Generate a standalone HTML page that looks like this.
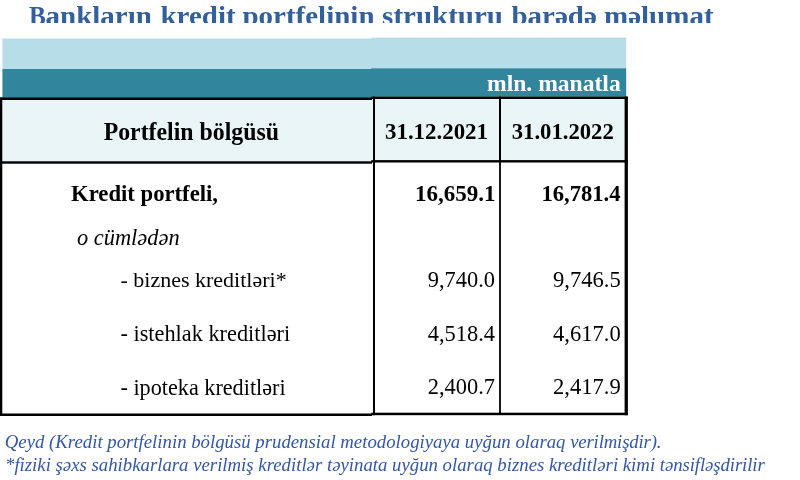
<!DOCTYPE html>
<html><head><meta charset="utf-8">
<style>
html,body{margin:0;padding:0;background:#fff;}
body{width:800px;height:480px;position:relative;overflow:hidden;font-family:"Liberation Serif",serif;color:#000;}
.a{position:absolute;white-space:nowrap;line-height:1;}
#tx{position:absolute;left:0;top:0;width:800px;height:480px;will-change:transform;}
.bx{position:absolute;}
.w{position:relative;}
</style></head><body>
<svg class="bx" id="grid" style="left:0;top:0;" width="800" height="480" viewBox="0 0 800 480">
<!-- left piece -->
<rect x="2.4" y="38.5" width="369.6" height="30.5" fill="#b7dde8"/>
<rect x="2.4" y="69" width="369.6" height="29" fill="#31859c"/>
<rect x="2.6" y="99.5" width="369.4" height="62.5" fill="#eaf5f7"/>
<!-- right piece -->
<rect x="371.3" y="37.6" width="254.9" height="30.7" fill="#b7dde8"/>
<rect x="371.3" y="68.3" width="254.9" height="28.5" fill="#31859c"/>
<rect x="371.3" y="98" width="254.9" height="62.5" fill="#eaf5f7"/>
<g fill="#000">
<rect x="0" y="97.5" width="372" height="2.5"/>
<rect x="0" y="161.3" width="372" height="2.4"/>
<rect x="0" y="413.5" width="372" height="2.5"/>
<rect x="0" y="97.5" width="2.3" height="318.5"/>
<rect x="371.3" y="96.6" width="256.6" height="2.4"/>
<rect x="371.3" y="160.1" width="256.6" height="2.4"/>
<rect x="371.3" y="412.7" width="256.6" height="2.5"/>
<rect x="373" y="96.6" width="2" height="318.6"/>
<rect x="499" y="96.6" width="2" height="65"/>
<rect x="499.1" y="161" width="1.8" height="254"/>
<rect x="624.6" y="96.6" width="3.3" height="318.6"/>
</g>
</svg>
<!-- texts -->
<div id="tx">
<div class="bx clip" style="left:0;top:0px;width:800px;height:22.7px;overflow:hidden;"><div class="a" id="title" style="left:28.5px;top:0.71px;font-size:29px;font-weight:bold;color:#33609c;transform:scaleY(0.94);transform-origin:0 24.29px;"><span style="display:inline-block;transform:scaleX(.87);transform-origin:0 0;margin-right:-2.3px">B</span>ankların <span class="w" style="left:1.3px">kredit</span> <span class="w" style="left:0.8px">portfelinin</span> <span class="w" style="left:1.1px">strukturu</span> <span class="w" style="left:2.3px">barədə</span> <span class="w" style="left:2.3px">məlumat</span></div></div>
<div class="a" id="mln" style="left:487px;top:72px;font-size:23.6px;font-weight:bold;color:#fff;">mln. manatla</div>
<div class="a" id="h1" style="left:103.7px;top:120.5px;font-size:23.8px;font-weight:bold;transform:scaleY(1.08);transform-origin:0 80%;">Portfelin bölgüsü</div>
<div class="a" id="h2" style="left:385px;top:120.5px;font-size:22.9px;font-weight:bold;">31.12.2021</div>
<div class="a" id="h3" style="left:511.7px;top:120.8px;font-size:22.7px;font-weight:bold;">31.01.2022</div>
<div class="a" id="r1" style="left:71px;top:183px;font-size:22.7px;font-weight:bold;">Kredit portfeli,</div>
<div class="a" id="r1a" style="right:304.5px;top:182px;font-size:23px;font-weight:bold;">16,659.1</div>
<div class="a" id="r1b" style="right:179.5px;top:183px;font-size:22.6px;font-weight:bold;">16,781.4</div>
<div class="a" id="r2" style="left:77px;top:226.5px;font-size:22.4px;font-style:italic;">o cümlədən</div>
<div class="a" id="r3" style="left:120.5px;top:268.5px;font-size:22px;">- biznes kreditləri*</div>
<div class="a" id="r3a" style="right:305px;top:269px;font-size:22.4px;">9,740.0</div>
<div class="a" id="r3b" style="right:179.2px;top:269px;font-size:22.6px;">9,746.5</div>
<div class="a" id="r4" style="left:120.5px;top:322.7px;font-size:22.3px;">- istehlak kreditləri</div>
<div class="a" id="r4a" style="right:305px;top:323px;font-size:22.4px;">4,518.4</div>
<div class="a" id="r4b" style="right:179.2px;top:323px;font-size:22.6px;">4,617.0</div>
<div class="a" id="r5" style="left:120.5px;top:376.7px;font-size:22.2px;">- ipoteka kreditləri</div>
<div class="a" id="r5a" style="right:305px;top:376px;font-size:22.4px;">2,400.7</div>
<div class="a" id="r5b" style="right:179.2px;top:376px;font-size:22.6px;">2,417.9</div>
<div class="a" id="n1" style="left:4.8px;top:433px;font-size:18.77px;font-style:italic;color:#3357a3;">Qeyd (Kredit portfelinin bölgüsü prudensial metodologiyaya uyğun olaraq <span style="letter-spacing:-0.16px">verilmişdir).</span></div>
<div class="a" id="n2" style="left:5px;top:455.7px;font-size:18.77px;font-style:italic;color:#3357a3;">*fiziki şəxs sahibkarlara verilmiş kreditlər təyinata uyğun olaraq biznes kreditləri kimi <span style="letter-spacing:-0.09px">tənsifləşdirilir</span></div>
</div>
</body></html>
